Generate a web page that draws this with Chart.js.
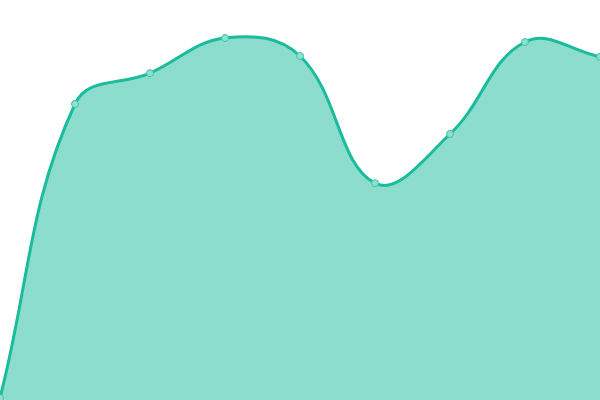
<!DOCTYPE html>
<html>
<head>
<meta charset="utf-8">
<script src="https://cdn.jsdelivr.net/npm/chart.js@4"></script>
<style>
    html, body { margin: 0; padding: 0; background: #fff; }
    #wrap { width: 600px; height: 400px; }
</style>
</head>
<body>
<div id="wrap"><canvas id="chart"></canvas></div>
<script>
// values (scale 0..100)
const labels = ['1', '2', '3', '4', '5', '6', '7', '8', '9'];
const values = [0.5, 74, 81.7, 90.5, 86, 54.2, 66.5, 89.5, 85.8];

const lineColor = '#1abc9c';

const ctx = document.getElementById('chart').getContext('2d');
new Chart(ctx, {
    type: 'line',
    data: {
        labels: labels,
        datasets: [{
            data: values,
            borderColor: lineColor,
            backgroundColor: 'rgba(26, 188, 156, 0.5)',
            borderWidth: 3,
            fill: true,
            tension: 0.4,
            pointRadius: 3.5,
            pointBorderWidth: 1,
            pointBackgroundColor: '#8fe0d0',
            pointBorderColor: '#3cc4a8'
        }]
    },
    options: {
        responsive: true,
        maintainAspectRatio: false,
        animation: false,
        layout: { padding: 0, autoPadding: false },
        plugins: {
            legend: { display: false },
            tooltip: { enabled: false }
        },
        scales: {
            x: { display: false },
            y: { display: false, min: 0, max: 100 }
        }
    }
});
</script>
</body>
</html>
